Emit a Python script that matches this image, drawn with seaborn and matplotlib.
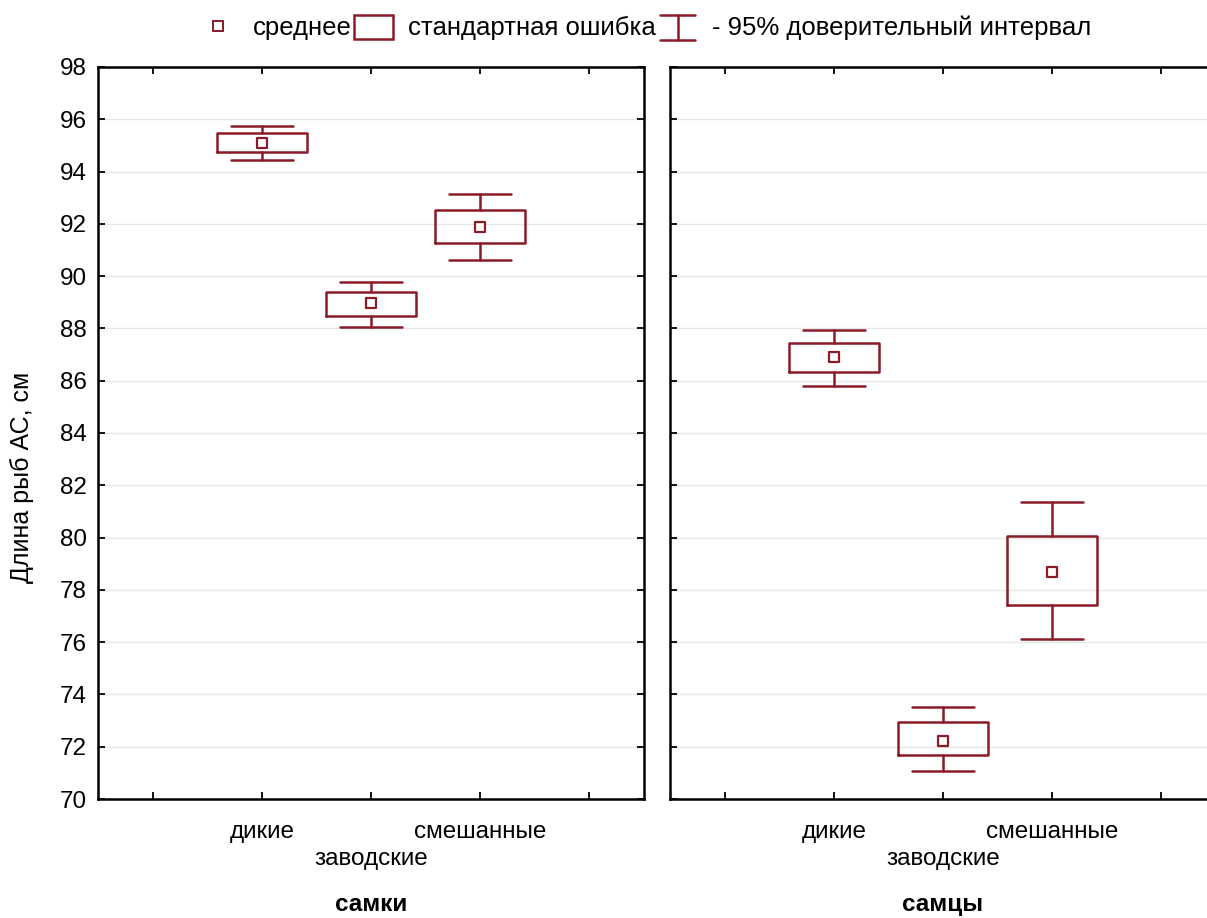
import matplotlib
matplotlib.use('Agg')
import matplotlib.pyplot as plt
from matplotlib.lines import Line2D
from matplotlib.patches import Rectangle
from matplotlib.legend_handler import HandlerBase
import seaborn as sns
import pandas as pd

# group names and panel names
groups = ['дикие', 'заводские', 'смешанные']
panels = ['самки', 'самцы']

# females: mean, standard error box, 95% CI whiskers
f_mean = [95.10, 88.98, 91.87]
f_se_lo = [94.74, 88.47, 91.25]
f_se_hi = [95.46, 89.38, 92.53]
f_ci_lo = [94.44, 88.07, 90.62]
f_ci_hi = [95.75, 89.79, 93.13]

# males
m_mean = [86.89, 72.23, 78.69]
m_se_lo = [86.34, 71.68, 77.42]
m_se_hi = [87.43, 72.93, 80.07]
m_ci_lo = [85.81, 71.07, 76.11]
m_ci_hi = [87.94, 73.53, 81.37]

yticks = list(range(70, 99, 2))

red = '#8a1c2a'
fs = 17.5

sns.set_theme(style='white')
plt.rcParams['font.family'] = ['Liberation Sans', 'DejaVu Sans']
plt.rcParams['text.color'] = 'black'
plt.rcParams['axes.labelcolor'] = 'black'

fig = plt.figure(figsize=(12.07, 9.18), dpi=100)
ax1 = fig.add_axes([98/1207, 1-799/918, 546/1207, 732/918])
ax2 = fig.add_axes([670/1207, 1-799/918, 546/1207, 732/918])

pos = [1, 2, 3]
data = [
    (f_mean, f_se_lo, f_se_hi, f_ci_lo, f_ci_hi),
    (m_mean, m_se_lo, m_se_hi, m_ci_lo, m_ci_hi),
]

for ax, (mean, lo, hi, clo, chi), title in zip([ax1, ax2], data, panels):
    stats = []
    for i in range(3):
        stats.append({'med': mean[i], 'q1': lo[i], 'q3': hi[i],
                      'whislo': clo[i], 'whishi': chi[i], 'fliers': []})
    ax.bxp(stats, positions=pos, widths=0.82, capwidths=0.57,
           showfliers=False,
           boxprops=dict(color=red, linewidth=1.8),
           whiskerprops=dict(color=red, linewidth=1.8),
           capprops=dict(color=red, linewidth=1.8),
           medianprops=dict(linewidth=0))
    df = pd.DataFrame({'x': pos, 'y': mean})
    sns.scatterplot(data=df, x='x', y='y', ax=ax, marker='s', s=60,
                    facecolor='white', edgecolor=red, linewidth=1.6, zorder=5)

    ax.set_xlim(-0.5, 4.5)
    ax.set_ylim(70, 98)
    ax.set_yticks(yticks)
    ax.set_xticks([0, 1, 2, 3, 4])
    ax.set_xticklabels(['', groups[0], '', groups[2], ''])
    # second row label for the middle group
    ax.xaxis.remove_overlapping_locs = False
    ax.set_xticks([2], minor=True)
    ax.set_xticklabels([groups[1]], minor=True)
    ax.grid(axis='y', color='#e6e6e6', linewidth=1)
    ax.set_axisbelow(True)
    for s in ax.spines.values():
        s.set_color('black')
        s.set_linewidth(1.8)
    ax.tick_params(direction='in', length=5, width=1.3, color='black',
                   top=True, right=True, bottom=True, left=True,
                   labelsize=fs, pad=8, labelcolor='black')
    ax.tick_params(axis='x', which='major', pad=16)
    ax.tick_params(axis='x', which='minor', pad=35, length=0, top=False,
                   labelsize=fs, labelcolor='black')
    ax.set_xlabel(title, fontsize=fs, fontweight='bold', labelpad=17,
                  color='black')
    ax.set_ylabel('')

ax2.set_yticklabels([])

fig.text(22/1207, 1-477/918, 'Длина рыб АС, см', rotation=90,
         ha='center', va='center', fontsize=fs + 0.5)


class IBeamHandler(HandlerBase):
    def create_artists(self, legend, orig_handle, xdescent, ydescent,
                       width, height, fontsize, trans):
        cx = width / 2 - xdescent
        top = height * 1.15 - ydescent
        bot = -height * 0.25 - ydescent
        hw = width * 0.45
        kw = dict(color=red, linewidth=1.8, transform=trans)
        return [Line2D([cx - hw, cx + hw], [top, top], **kw),
                Line2D([cx - hw, cx + hw], [bot, bot], **kw),
                Line2D([cx, cx], [bot, top], **kw)]


class BoxHandler(HandlerBase):
    def create_artists(self, legend, orig_handle, xdescent, ydescent,
                       width, height, fontsize, trans):
        r = Rectangle((-xdescent, -ydescent - height * 0.2), width, height * 1.35,
                      facecolor='white', edgecolor=red, linewidth=1.8,
                      transform=trans)
        return [r]


h_mean = Line2D([], [], marker='s', linestyle='none', markersize=7,
                markerfacecolor='white', markeredgecolor=red, markeredgewidth=1.4)
h_box = object()
h_ci = 'ci'
fig.legend([h_mean, h_box, h_ci],
           ['среднее', 'стандартная ошибка', '- 95% доверительный интервал'],
           handler_map={object: BoxHandler(), str: IBeamHandler()},
           loc='center', bbox_to_anchor=(645/1207, 1-28/918), ncol=3,
           frameon=False, fontsize=18.5, handlelength=1.5,
           handletextpad=0.6, columnspacing=0.1)

fig.savefig('out.png', dpi=100)
